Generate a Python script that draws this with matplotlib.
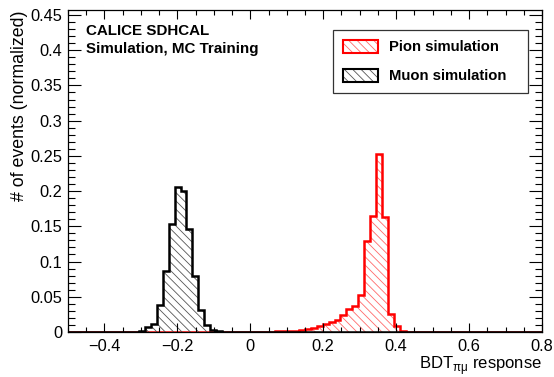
import numpy as np
import matplotlib
matplotlib.use("Agg")
import matplotlib.pyplot as plt
from matplotlib.patches import Patch
from matplotlib.ticker import MultipleLocator, FuncFormatter

plt.rcParams['font.family'] = ['Liberation Sans', 'DejaVu Sans']
plt.rcParams['mathtext.fontset'] = 'custom'
plt.rcParams['mathtext.rm'] = 'Liberation Sans'
plt.rcParams['hatch.linewidth'] = 0.6

# normalized BDT response, one value per bin
muon_lo = -0.305
muon_width = 0.01625
muon_vals = [0.002, 0.007, 0.012, 0.038, 0.087, 0.153, 0.206, 0.200,
             0.146, 0.080, 0.031, 0.010, 0.003, 0.001]

pion_lo = 0.068
pion_width = 0.0163
pion_vals = [0.0008, 0.001, 0.0015, 0.002, 0.003, 0.004, 0.006, 0.008,
             0.011, 0.014, 0.017, 0.024, 0.033, 0.037, 0.052, 0.129,
             0.165, 0.253, 0.163, 0.025, 0.009, 0.001]

xmin, xmax = -0.5, 0.8


def padded(lo, width, vals):
    # extend with empty bins so the line runs along the whole axis
    nleft = int(np.ceil((lo - xmin) / width)) + 1
    nright = int(np.ceil((xmax - (lo + width * len(vals))) / width)) + 1
    v = np.concatenate([np.zeros(nleft), vals, np.zeros(nright)])
    edges = lo - nleft * width + width * np.arange(len(v) + 1)
    return edges, v


fig = plt.figure(figsize=(5.54, 3.77), dpi=100)
ax = fig.add_axes([0.1227, 0.1194, 0.8556, 0.854])

red = '#ff0000'
red_hatch = '#ff6a6a'
blk_hatch = '#555555'
hatch = '\\\\\\\\'

pe, pv = padded(pion_lo, pion_width, pion_vals)
me, mv = padded(muon_lo, muon_width, muon_vals)

ax.stairs(pv, pe, fill=True, facecolor='none', edgecolor=red_hatch,
          hatch=hatch, linewidth=0)
ax.stairs(pv, pe, color=red, linewidth=1.8)
ax.stairs(mv, me, fill=True, facecolor='none', edgecolor=blk_hatch,
          hatch=hatch, linewidth=0)
ax.stairs(mv, me, color='black', linewidth=1.8)

ax.set_xlim(xmin, xmax)
ax.set_ylim(0, 0.457)

fmt = FuncFormatter(lambda v, p: ('%g' % round(v, 4)).replace('-', '\u2212'))
ax.xaxis.set_major_locator(MultipleLocator(0.2))
ax.xaxis.set_minor_locator(MultipleLocator(0.05))
ax.yaxis.set_major_locator(MultipleLocator(0.05))
ax.yaxis.set_minor_locator(MultipleLocator(0.01))
ax.xaxis.set_major_formatter(fmt)
ax.yaxis.set_major_formatter(fmt)
ax.tick_params(which='both', direction='in', top=True, right=True,
               labelsize=11.8, width=0.8)
ax.tick_params(axis='x', which='major', length=6.5, pad=5)
ax.tick_params(axis='x', which='minor', length=3.5)
ax.tick_params(axis='y', which='major', length=9.5, pad=4)
ax.tick_params(axis='y', which='minor', length=5)
for s in ax.spines.values():
    s.set_linewidth(0.9)

ax.set_xlabel('BDT$_{\\mathregular{\u03c0\u03bc}}$ response', fontsize=12,
              ha='right', va='baseline')
ax.xaxis.set_label_coords(1.0, -0.115)
ax.set_ylabel('# of events (normalized)', fontsize=12.8, loc='top',
              labelpad=2)

ax.text(0.038, 0.922, 'CALICE SDHCAL', transform=ax.transAxes,
        fontsize=10.9, fontweight='bold', va='baseline')
ax.text(0.038, 0.866, 'Simulation, MC Training', transform=ax.transAxes,
        fontsize=10.9, fontweight='bold', va='baseline')

handles = [
    (Patch(facecolor='none', edgecolor=red_hatch, hatch=hatch, linewidth=0),
     Patch(facecolor='none', edgecolor=red, linewidth=1.5)),
    (Patch(facecolor='none', edgecolor=blk_hatch, hatch=hatch, linewidth=0),
     Patch(facecolor='none', edgecolor='black', linewidth=1.5)),
]
leg = ax.legend(handles, ['Pion simulation', 'Muon simulation'],
                loc='upper left', bbox_to_anchor=(0.559, 0.745, 0.411, 0.193),
                mode='expand',
                prop={'weight': 'bold', 'size': 10.7},
                handlelength=2.4, handleheight=1.0, handletextpad=0.75,
                labelspacing=0.95, borderpad=0.65, borderaxespad=0,
                fancybox=False, framealpha=1, edgecolor='#333333')
leg.get_frame().set_linewidth(0.9)

fig.savefig('out.png', dpi=100)
